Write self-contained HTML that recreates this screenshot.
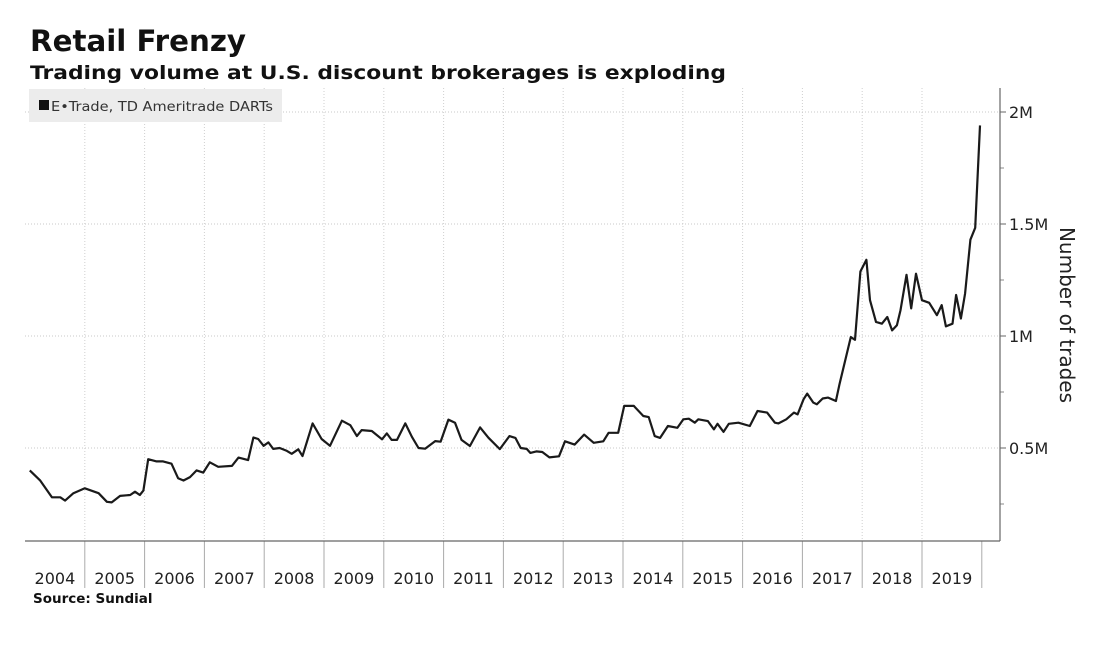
<!DOCTYPE html>
<html><head><meta charset="utf-8"><style>
html,body{margin:0;padding:0;background:#fff;}
svg{display:block;}
</style></head><body>
<svg id="chart" width="1098" height="664" viewBox="0 0 1098 664" xmlns="http://www.w3.org/2000/svg">
<text x="30" y="51" font-family="DejaVu Sans, Liberation Sans, sans-serif" font-weight="bold" font-size="29" fill="#111" textLength="216" lengthAdjust="spacingAndGlyphs">Retail Frenzy</text>
<text x="30" y="79" font-family="DejaVu Sans, Liberation Sans, sans-serif" font-weight="bold" font-size="19" fill="#111" textLength="696" lengthAdjust="spacingAndGlyphs">Trading volume at U.S. discount brokerages is exploding</text>
<g id="grid"></g>
<rect x="29" y="89" width="253" height="33" fill="#ececec"/>
<rect x="39" y="100" width="10" height="10" fill="#111"/>
<text x="51" y="111" font-family="DejaVu Sans, Liberation Sans, sans-serif" font-size="13" fill="#333" textLength="222" lengthAdjust="spacingAndGlyphs">E•Trade, TD Ameritrade DARTs</text>
<g id="axes"></g>
<path id="series" fill="none" stroke="#1a1a1a" stroke-width="2.2" stroke-linejoin="round"/>
<text x="1060" y="315" transform="rotate(90 1060 315)" text-anchor="middle" font-family="DejaVu Sans, Liberation Sans, sans-serif" font-size="20" fill="#222">Number of trades</text>
<text x="33" y="603" font-family="DejaVu Sans, Liberation Sans, sans-serif" font-weight="bold" font-size="13.5" fill="#111">Source: Sundial</text>
</svg>
<script>
const years = [2004,2005,2006,2007,2008,2009,2010,2011,2012,2013,2014,2015,2016,2017,2018,2019];
const yTicks = [0.5,1,1.5,2];
const yTickLabels = ["0.5M","1M","1.5M","2M"];
const dates = [2004.08,2004.25,2004.45,2004.59,2004.67,2004.81,2005.0,2005.23,2005.37,2005.45,2005.59,2005.76,2005.84,2005.92,2005.98,2006.06,2006.2,2006.31,2006.45,2006.56,2006.65,2006.76,2006.87,2006.98,2007.09,2007.23,2007.46,2007.57,2007.73,2007.82,2007.9,2007.99,2008.07,2008.15,2008.26,2008.38,2008.46,2008.57,2008.64,2008.81,2008.96,2009.1,2009.3,2009.44,2009.55,2009.63,2009.8,2009.97,2010.05,2010.13,2010.22,2010.36,2010.47,2010.58,2010.69,2010.86,2010.95,2011.08,2011.19,2011.3,2011.44,2011.61,2011.75,2011.94,2012.1,2012.2,2012.29,2012.39,2012.45,2012.55,2012.65,2012.77,2012.93,2013.03,2013.19,2013.35,2013.51,2013.67,2013.76,2013.92,2014.02,2014.18,2014.34,2014.43,2014.53,2014.62,2014.75,2014.91,2015.01,2015.1,2015.2,2015.26,2015.42,2015.52,2015.58,2015.68,2015.77,2015.93,2016.12,2016.25,2016.41,2016.54,2016.6,2016.73,2016.86,2016.92,2017.02,2017.08,2017.18,2017.24,2017.34,2017.43,2017.56,2017.62,2017.81,2017.88,2017.97,2018.07,2018.13,2018.23,2018.33,2018.42,2018.5,2018.58,2018.64,2018.74,2018.82,2018.9,2019.0,2019.12,2019.25,2019.33,2019.4,2019.51,2019.57,2019.65,2019.72,2019.81,2019.89,2019.97];
const values = [0.40,0.356,0.28,0.28,0.265,0.298,0.32,0.298,0.26,0.257,0.286,0.29,0.305,0.29,0.31,0.45,0.44,0.44,0.43,0.365,0.355,0.37,0.40,0.39,0.436,0.416,0.42,0.457,0.446,0.547,0.54,0.51,0.525,0.496,0.50,0.487,0.474,0.494,0.464,0.61,0.54,0.51,0.622,0.602,0.553,0.58,0.576,0.539,0.565,0.536,0.536,0.61,0.55,0.50,0.497,0.531,0.528,0.627,0.613,0.536,0.509,0.592,0.546,0.495,0.553,0.545,0.50,0.496,0.478,0.485,0.482,0.458,0.463,0.53,0.515,0.56,0.523,0.53,0.568,0.568,0.688,0.688,0.643,0.638,0.553,0.545,0.598,0.59,0.628,0.631,0.613,0.628,0.62,0.583,0.608,0.572,0.608,0.613,0.598,0.665,0.658,0.613,0.61,0.628,0.658,0.65,0.718,0.743,0.703,0.695,0.721,0.725,0.71,0.785,0.995,0.983,1.288,1.34,1.16,1.063,1.055,1.085,1.025,1.048,1.115,1.273,1.123,1.278,1.16,1.148,1.093,1.138,1.043,1.055,1.183,1.078,1.19,1.43,1.483,1.94];

const X0 = 25, YW = 59.8, PLOT_R = 1000, PLOT_T = 88, PLOT_B = 541;
function xScale(t){ return X0 + (t - 2004) * YW; }
function yScale(v){ return 560 - v * 224; }
const NS = "http://www.w3.org/2000/svg";
function mk(tag, attrs, parent){ const e = document.createElementNS(NS, tag); for (const k in attrs) e.setAttribute(k, attrs[k]); parent.appendChild(e); return e; }
const grid = document.getElementById('grid');
const axes = document.getElementById('axes');
years.forEach((yr, i) => {
  if (i > 0) {
    const g = mk('line', {x1: xScale(yr), x2: xScale(yr), y1: PLOT_T, y2: PLOT_B, stroke: '#cfcfcf', 'stroke-width': 1, 'stroke-dasharray': '1,2'}, grid);
    
    
  }
  const sep = mk('line', {x1: xScale(yr + 1), x2: xScale(yr + 1), y1: PLOT_B, y2: 588, stroke: '#aaa', 'stroke-width': 1}, axes);
  
  
  const t = mk('text', {x: xScale(yr + 0.5), y: 584, 'text-anchor': 'middle', 'font-family': 'DejaVu Sans, Liberation Sans, sans-serif', 'font-size': 16, fill: '#222'}, axes);
  t.textContent = yr;
  
  
});
yTicks.forEach((v, i) => {
  const g = mk('line', {x1: X0, x2: PLOT_R, y1: yScale(v), y2: yScale(v), stroke: '#c8c8c8', 'stroke-width': 1, 'stroke-dasharray': '1,2'}, grid);
  
  
  const tk = mk('line', {x1: PLOT_R, x2: PLOT_R + 6, y1: yScale(v), y2: yScale(v), stroke: '#666', 'stroke-width': 1}, axes);
  
  
  const t = mk('text', {x: PLOT_R + 9, y: yScale(v) + 6, 'font-family': 'DejaVu Sans, Liberation Sans, sans-serif', 'font-size': 16, fill: '#222'}, axes);
  t.textContent = yTickLabels[i];
  
  
  const mv = v - 0.25;
  const mt = mk('line', {x1: PLOT_R, x2: PLOT_R + 4, y1: yScale(mv), y2: yScale(mv), stroke: '#888', 'stroke-width': 1}, axes);
  
  
});
const ya = mk('line', {x1: PLOT_R, x2: PLOT_R, y1: PLOT_T, y2: PLOT_B, stroke: '#666', 'stroke-width': 1.2}, axes);


const xa = mk('line', {x1: X0, x2: PLOT_R, y1: PLOT_B, y2: PLOT_B, stroke: '#666', 'stroke-width': 1.2}, axes);


document.getElementById('series').setAttribute('d', dates.map((d, i) => (i ? 'L' : 'M') + xScale(d).toFixed(1) + ',' + yScale(values[i]).toFixed(1)).join(''));
</script>
</body></html>
